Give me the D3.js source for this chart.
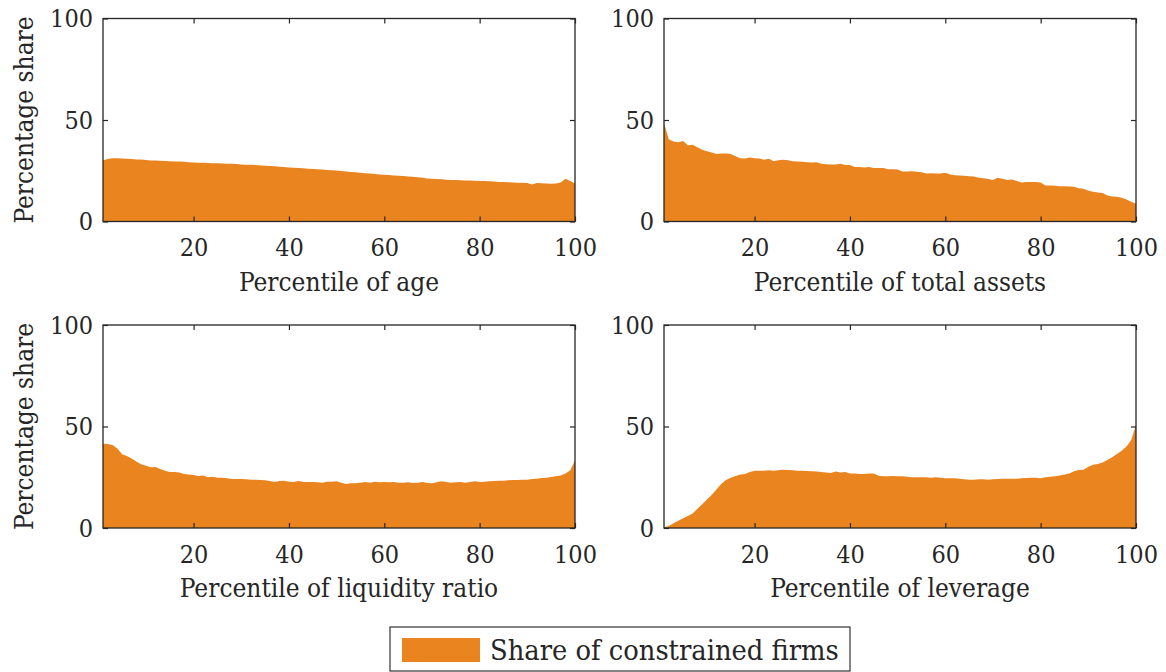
<!DOCTYPE html>
<html>
<head>
<meta charset="utf-8">
<script src="https://cdn.jsdelivr.net/npm/d3@7"></script>
<style>
  html, body { margin: 0; padding: 0; background: #fff; }
  svg { display: block; }
  text { font-family: "DejaVu Serif Condensed", "DejaVu Serif", serif; font-stretch: condensed; fill: #262626; }
</style>
</head>
<body>
<svg id="chart" width="1166" height="672"></svg>
<script>
// ---- Data (percentage share of constrained firms by percentile) ----
const percentiles = d3.range(1, 101);

const ageShare = [
  30.2, 30.8, 31.2, 31.2, 31.0, 30.9, 30.8, 30.6, 30.5, 30.3,
  30.1, 30.0, 29.9, 29.8, 29.7, 29.6, 29.5, 29.4, 29.2, 29.1,
  29.0, 28.9, 28.8, 28.7, 28.7, 28.6, 28.5, 28.4, 28.3, 28.1,
  28.0, 27.9, 27.8, 27.6, 27.5, 27.3, 27.2, 27.0, 26.8, 26.6,
  26.5, 26.3, 26.2, 26.0, 25.9, 25.7, 25.6, 25.4, 25.3, 25.1,
  24.9, 24.6, 24.4, 24.2, 24.0, 23.8, 23.6, 23.4, 23.2, 23.0,
  22.9, 22.7, 22.5, 22.4, 22.2, 22.0, 21.8, 21.5, 21.2, 21.0,
  20.9, 20.8, 20.6, 20.5, 20.4, 20.3, 20.2, 20.2, 20.1, 20.0,
  19.9, 19.8, 19.7, 19.5, 19.4, 19.3, 19.2, 19.1, 19.1, 19.0,
  18.2, 19.0, 18.8, 18.7, 18.6, 18.7, 19.2, 21.0, 20.0, 18.7
];

const assetsShare = [
  48.5, 40.5, 39.4, 39.1, 39.6, 37.6, 37.8, 36.6, 35.3, 34.6,
  34.0, 33.3, 33.5, 33.5, 33.3, 32.2, 31.2, 31.0, 31.5, 31.2,
  31.0, 30.4, 30.9, 29.7, 30.2, 30.4, 30.2, 29.7, 29.6, 29.4,
  29.2, 29.1, 29.2, 28.4, 28.2, 28.1, 28.1, 28.4, 27.8, 27.8,
  26.9, 26.8, 26.6, 26.8, 26.4, 26.4, 26.3, 25.8, 25.8, 25.6,
  24.6, 24.6, 24.8, 24.5, 24.3, 23.6, 23.8, 23.6, 23.6, 24.0,
  23.2, 22.8, 22.7, 22.5, 22.3, 22.2, 21.5, 21.3, 20.9, 20.5,
  21.5, 21.0, 20.5, 20.7, 19.9, 19.2, 19.4, 19.4, 19.4, 19.2,
  17.7, 17.7, 17.6, 17.4, 17.4, 17.2, 17.1, 16.4, 16.1, 15.1,
  14.6, 14.3, 14.0, 12.8, 12.3, 12.2, 11.7, 10.8, 9.7, 8.7
];

const liquidityShare = [
  41.5, 41.4, 40.9, 39.2, 36.3, 35.5, 34.2, 32.7, 31.4, 30.7,
  29.9, 30.0, 29.1, 28.2, 27.6, 27.6, 27.4, 26.6, 26.3, 26.1,
  25.6, 25.9, 25.0, 25.3, 24.8, 24.8, 24.5, 24.1, 24.1, 24.1,
  24.0, 23.8, 23.8, 23.6, 23.5, 23.2, 22.7, 23.2, 23.3, 22.8,
  22.7, 23.2, 22.7, 22.7, 22.7, 22.5, 22.3, 22.8, 22.8, 23.0,
  22.3, 21.7, 22.0, 22.0, 22.3, 22.7, 22.3, 22.8, 22.5, 22.7,
  22.5, 22.7, 22.3, 22.3, 22.5, 22.2, 22.3, 22.7, 22.2, 22.0,
  22.5, 23.0, 22.7, 22.3, 22.5, 22.7, 22.3, 22.7, 23.0, 22.7,
  22.8, 23.0, 23.2, 23.3, 23.3, 23.5, 23.6, 23.6, 23.8, 23.8,
  24.1, 24.3, 24.6, 24.8, 25.1, 25.5, 25.9, 26.9, 28.4, 33.2
];

const leverageShare = [
  0.4, 1.0, 2.3, 3.6, 4.8, 5.9, 7.2, 9.5, 11.7, 14.1,
  16.3, 19.0, 21.7, 23.6, 24.8, 25.6, 26.3, 26.6, 27.6, 28.2,
  28.2, 28.2, 28.4, 28.2, 28.4, 28.7, 28.6, 28.4, 28.2, 28.2,
  28.1, 27.9, 27.8, 27.6, 27.4, 27.1, 27.8, 27.3, 27.6, 26.9,
  26.8, 26.6, 26.6, 26.8, 26.8, 25.8, 25.5, 25.5, 25.6, 25.5,
  25.5, 25.3, 25.0, 25.0, 25.0, 25.0, 24.8, 25.0, 24.8, 24.5,
  24.5, 24.5, 24.3, 24.0, 23.8, 23.8, 24.0, 24.0, 23.8, 24.0,
  24.1, 24.3, 24.3, 24.3, 24.3, 24.5, 24.6, 24.8, 24.8, 24.5,
  25.0, 25.3, 25.5, 25.9, 26.4, 26.9, 27.9, 28.6, 28.7, 30.2,
  31.2, 31.5, 32.3, 33.5, 34.8, 36.5, 38.1, 40.1, 43.3, 50.7
];

const xTickValues = [20, 40, 60, 80, 100];
const yTickValues = [0, 50, 100];
const panelTitles = ["Percentile of age", "Percentile of total assets",
                     "Percentile of liquidity ratio", "Percentile of leverage"];
const yLabel = "Percentage share";
const legendLabel = "Share of constrained firms";

// ---- Layout ----
const FILL = "#ea841f";
const AXIS = "#262626";
const FONT = "'DejaVu Serif Condensed', 'DejaVu Serif', serif";
const svg = d3.select("#chart");

const panels = [
  { values: ageShare,       title: panelTitles[0], left: 103, top: 18.5, showY: true },
  { values: assetsShare,    title: panelTitles[1], left: 664, top: 18.5, showY: false },
  { values: liquidityShare, title: panelTitles[2], left: 103, top: 325,  showY: true },
  { values: leverageShare,  title: panelTitles[3], left: 664, top: 325,  showY: false }
];
const W = 472, H = 203;

panels.forEach((p, i) => {
  const g = svg.append("g").attr("transform", `translate(${p.left},${p.top})`);
  const x = d3.scaleLinear().domain([1, 100]).range([0, W]);
  const y = d3.scaleLinear().domain([0, 100]).range([H, 0]);
  const data = percentiles.map((pc, k) => ({ p: pc, v: p.values[k] }));

  g.append("clipPath").attr("id", "clip" + i)
    .append("rect").attr("width", W).attr("height", H);

  const area = d3.area().x(d => x(d.p)).y0(y(0)).y1(d => y(d.v));
  g.append("path").datum(data)
    .attr("clip-path", `url(#clip${i})`)
    .attr("d", area).attr("fill", FILL).attr("stroke", "none");

  const styleAxis = (sel) => {
    sel.select(".domain").remove();
    sel.selectAll(".tick line").attr("stroke", AXIS).attr("stroke-width", 1.2);
    sel.selectAll(".tick text").attr("font-family", FONT).attr("font-size", 25).attr("fill", AXIS);
  };

  // bottom axis
  g.append("g").attr("transform", `translate(0,${H})`)
    .call(d3.axisBottom(x).tickValues(xTickValues).tickSizeInner(-5).tickSizeOuter(0).tickPadding(17))
    .call(styleAxis);
  // top ticks
  g.append("g")
    .call(d3.axisTop(x).tickValues(xTickValues).tickSizeInner(-5).tickSizeOuter(0).tickFormat(""))
    .call(styleAxis);
  // left axis
  g.append("g")
    .call(d3.axisLeft(y).tickValues(yTickValues).tickSizeInner(-5).tickSizeOuter(0).tickPadding(10))
    .call(styleAxis);
  // right ticks
  g.append("g").attr("transform", `translate(${W},0)`)
    .call(d3.axisRight(y).tickValues(yTickValues).tickSizeInner(-5).tickSizeOuter(0).tickFormat(""))
    .call(styleAxis);

  // frame
  g.append("rect").attr("width", W).attr("height", H)
    .attr("fill", "none").attr("stroke", AXIS).attr("stroke-width", 1.3);

  // x label
  g.append("text").attr("x", W / 2).attr("y", H + 69)
    .attr("text-anchor", "middle").attr("font-size", 26).text(p.title);

  if (p.showY) {
    g.append("text")
      .attr("transform", `translate(${-70},${H / 2}) rotate(-90)`)
      .attr("text-anchor", "middle").attr("font-size", 26).text(yLabel);
  }
});

// ---- Legend ----
const lg = svg.append("g").attr("transform", "translate(390,627)");
lg.append("rect").attr("x", 0).attr("y", 0).attr("width", 460).attr("height", 44)
  .attr("fill", "#fff").attr("stroke", "#333").attr("stroke-width", 1.2);
lg.append("rect").attr("x", 12).attr("y", 11).attr("width", 78).attr("height", 24)
  .attr("fill", FILL);
lg.append("text").attr("x", 100).attr("y", 33).attr("font-size", 28.7).text(legendLabel);
</script>
</body>
</html>
